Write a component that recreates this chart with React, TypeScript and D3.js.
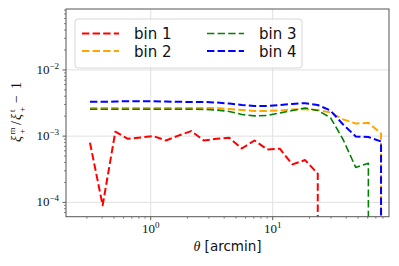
import React from 'react';
import * as d3 from 'd3';

// angular bins [arcmin]
const theta = [0.318, 0.404, 0.513, 0.651, 0.827, 1.05, 1.332, 1.692, 2.148, 2.728, 3.463, 4.398,
  5.583, 7.09, 9.0, 11.43, 14.51, 18.42, 23.39, 29.7, 37.71, 47.88, 60.79, 77.19, 98.0];

// xi_m / xi_t - 1 ; 0 = non-positive (clipped on log axis)
const bin1 = [7.95e-4, 9.0e-5, 1.165e-3, 9.1e-4, 9.55e-4, 1.0e-3, 8.6e-4, 1.02e-3, 1.19e-3, 8.6e-4,
  9.1e-4, 9.45e-4, 6.5e-4, 8.6e-4, 6.3e-4, 6.45e-4, 3.74e-4, 4.35e-4, 2.71e-4, 0, 0, 0, 0, 0, 0];
const bin2 = [2.66e-3, 2.66e-3, 2.66e-3, 2.66e-3, 2.66e-3, 2.66e-3, 2.66e-3, 2.66e-3, 2.66e-3, 2.66e-3,
  2.66e-3, 2.57e-3, 2.48e-3, 2.4e-3, 2.4e-3, 2.44e-3, 2.53e-3, 2.55e-3, 2.48e-3, 2.28e-3, 1.79e-3,
  1.55e-3, 1.59e-3, 1.1e-3, 0];
const bin3 = [2.55e-3, 2.55e-3, 2.55e-3, 2.55e-3, 2.55e-3, 2.55e-3, 2.55e-3, 2.55e-3, 2.55e-3, 2.53e-3,
  2.48e-3, 2.36e-3, 2.12e-3, 2.02e-3, 2.05e-3, 2.24e-3, 2.44e-3, 2.66e-3, 2.44e-3, 1.91e-3, 8.9e-4,
  3.37e-4, 3.88e-4, 0, 0];
const bin4 = [3.3e-3, 3.3e-3, 3.33e-3, 3.37e-3, 3.37e-3, 3.37e-3, 3.33e-3, 3.3e-3, 3.28e-3, 3.28e-3,
  3.22e-3, 3.11e-3, 2.95e-3, 2.85e-3, 2.85e-3, 2.95e-3, 3.06e-3, 3.15e-3, 2.95e-3, 2.44e-3, 1.5e-3,
  9.9e-4, 9.7e-4, 8.3e-4, 0];

const seriesNames = ['bin 1', 'bin 2', 'bin 3', 'bin 4'];
const seriesColors = ['red', 'orange', 'green', 'blue'];
const seriesWidths = [2, 2, 1.6, 2];
const xTickLabels = ['0', '1'];
const yTickLabels = ['−4', '−3', '−2'];

const W = 399, H = 266;
const left = 66, right = 389, top = 9, bottom = 216.7;

export default function App() {
  const x = d3.scaleLog().domain([0.2023, 89.7]).range([left, right]);
  const y = d3.scaleLog().domain([6.07e-5, 0.0832]).range([bottom, top]);
  const all = [bin1, bin2, bin3, bin4];

  const line = d3.line<[number, number]>()
    .x((d) => x(d[0]))
    .y((d) => (d[1] > 0 ? y(d[1]) : bottom + 1e5));

  const majX = [1, 10];
  const majY = [1e-4, 1e-3, 1e-2];
  const minX: number[] = [];
  [0.1, 1, 10].forEach((b) => d3.range(2, 10).forEach((k) => {
    const v = b * k; if (v > 0.2023 && v < 89.7) minX.push(v);
  }));
  const minY: number[] = [];
  [1e-5, 1e-4, 1e-3, 1e-2].forEach((b) => d3.range(2, 10).forEach((k) => {
    const v = b * k; if (v > 6.07e-5 && v < 0.0832) minY.push(v);
  }));

  const serif = 'Liberation Serif, serif';
  const sans = 'DejaVu Sans, sans-serif';

  return (
    <div style={{ position: 'fixed', left: 0, top: 0 }}>
      <svg width={W} height={H} style={{ display: 'block', background: '#fff' }}>
        <defs>
          <clipPath id="plotclip">
            <rect x={left} y={top} width={right - left} height={bottom - top} />
          </clipPath>
        </defs>
        {/* grid */}
        {majX.map((v) => (
          <line key={'gx' + v} x1={x(v)} x2={x(v)} y1={top} y2={bottom} stroke="#e0e0e0" strokeWidth={1} />
        ))}
        {majY.map((v) => (
          <line key={'gy' + v} x1={left} x2={right} y1={y(v)} y2={y(v)} stroke="#e0e0e0" strokeWidth={1} />
        ))}
        {/* lines */}
        <g clipPath="url(#plotclip)">
          {all.map((s, i) => (
            <path key={i} d={line(theta.map((t, j) => [t, s[j]]) as [number, number][]) || ''}
              fill="none" stroke={seriesColors[i]} strokeWidth={seriesWidths[i]}
              strokeDasharray="7.4,3.2" strokeLinejoin="round" />
          ))}
        </g>
        {/* ticks */}
        {majX.map((v) => (
          <line key={'tx' + v} x1={x(v)} x2={x(v)} y1={bottom} y2={bottom + 3.5} stroke="#333" strokeWidth={0.8} />
        ))}
        {minX.map((v) => (
          <line key={'mx' + v} x1={x(v)} x2={x(v)} y1={bottom} y2={bottom + 2} stroke="#333" strokeWidth={0.6} />
        ))}
        {majY.map((v) => (
          <line key={'ty' + v} x1={left - 3.5} x2={left} y1={y(v)} y2={y(v)} stroke="#333" strokeWidth={0.8} />
        ))}
        {minY.map((v) => (
          <line key={'my' + v} x1={left - 2} x2={left} y1={y(v)} y2={y(v)} stroke="#333" strokeWidth={0.6} />
        ))}
        {/* spines */}
        <rect x={left} y={top} width={right - left} height={bottom - top} fill="none" stroke="#555" strokeWidth={1} />
        {/* tick labels */}
        {majX.map((v, i) => (
          <text key={'lx' + v} x={x(v)} y={bottom + 16.5} fontFamily={serif} fontSize={13} fill="#111" textAnchor="middle">
            10<tspan fontSize={9} dy={-5}>{xTickLabels[i]}</tspan>
          </text>
        ))}
        {majY.map((v, i) => (
          <text key={'ly' + v} x={left - 7} y={y(v) + 4} fontFamily={serif} fontSize={13} fill="#111" textAnchor="end">
            10<tspan fontSize={9} dy={-5}>{yTickLabels[i]}</tspan>
          </text>
        ))}
        {/* axis titles */}
        <text x={(left + right) / 2} y={251} textAnchor="middle" fontSize={14} fill="#111">
          <tspan fontFamily={serif} fontStyle="italic">θ</tspan>
          <tspan fontFamily={sans} fontSize={13.5}> [arcmin]</tspan>
        </text>
        <g transform="translate(21, 142) rotate(-90)" fontFamily={serif} fill="#111">
          <text x={0} y={0} fontSize={14} fontStyle="italic">ξ</text>
          <text x={7.5} y={-6} fontSize={9}>m</text>
          <text x={8} y={4} fontSize={9}>+</text>
          <text x={17} y={0} fontSize={14}>/</text>
          <text x={22} y={0} fontSize={14} fontStyle="italic">ξ</text>
          <text x={30} y={-6} fontSize={9}>t</text>
          <text x={30} y={4} fontSize={9}>+</text>
          <text x={39} y={0} fontSize={14}>−</text>
          <text x={53} y={0} fontSize={14}>1</text>
        </g>
        {/* legend */}
        <rect x={75} y={19} width={227} height={49} rx={3} fill="#fff" fillOpacity={0.8} stroke="#d6d6d6" strokeWidth={1} />
        {seriesNames.map((n, i) => {
          const col = Math.floor(i / 2);
          const row = i % 2;
          const lx = col === 0 ? 82 : 207;
          const ly = row === 0 ? 33.5 : 51;
          return (
            <g key={n}>
              <line x1={lx} x2={lx + 37} y1={ly} y2={ly} stroke={seriesColors[i]} strokeWidth={seriesWidths[i]} strokeDasharray="7.4,3.2" />
              <text x={lx + 52} y={ly + 5.5} fontFamily={sans} fontSize={15} fill="#111">{n}</text>
            </g>
          );
        })}
      </svg>
    </div>
  );
}
